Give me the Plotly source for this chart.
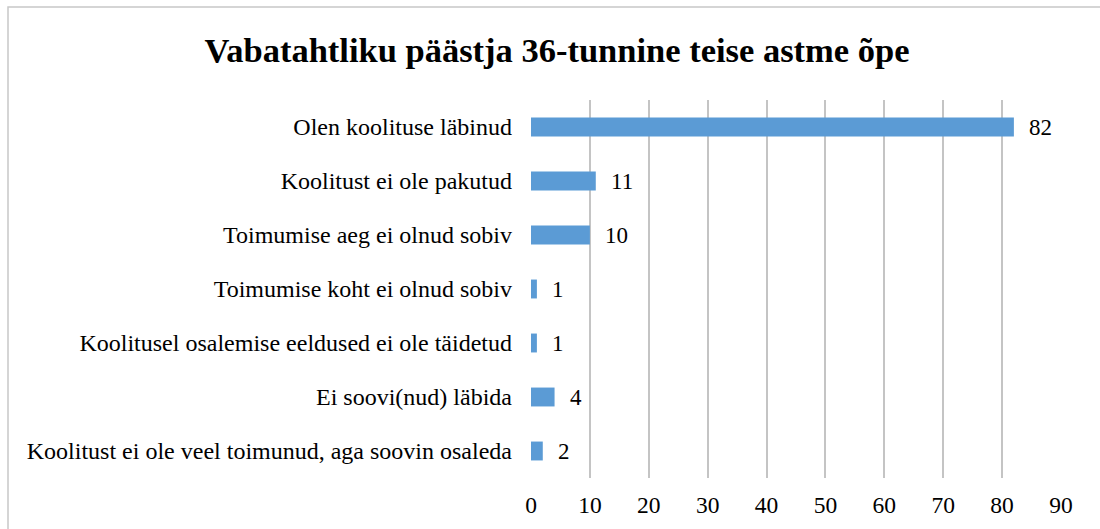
import plotly.graph_objects as go

categories = [
    "Olen koolituse läbinud",
    "Koolitust ei ole pakutud",
    "Toimumise aeg ei olnud sobiv",
    "Toimumise koht ei olnud sobiv",
    "Koolitusel osalemise eeldused ei ole täidetud",
    "Ei soovi(nud) läbida",
    "Koolitust ei ole veel toimunud, aga soovin osaleda",
]
values = [82, 11, 10, 1, 1, 4, 2]
x_ticks = [0, 10, 20, 30, 40, 50, 60, 70, 80, 90]
title_text = "Vabatahtliku päästja 36-tunnine teise astme õpe"

FONT = "Liberation Serif"

W, H = 1100, 529
L, R, T, B = 531, 39, 100, 51
pw, ph = W - L - R, H - T - B

fig = go.Figure()
fig.add_trace(go.Bar(
    x=values, y=categories, orientation="h",
    marker=dict(color="#5B9BD5", line=dict(width=0)),
    width=0.35, hoverinfo="x+y",
))

for c, v in zip(categories, values):
    fig.add_annotation(x=v, y=c, text=str(v), showarrow=False,
                       xanchor="left", xshift=13,
                       font=dict(family=FONT, size=23, color="#000"))

# outer border
fig.add_shape(type="rect", xref="paper", yref="paper",
              x0=(8 - L) / pw, x1=(W + 5 - L) / pw,
              y0=-(H + 5 - T - ph) / ph, y1=1 + (T - 7) / ph,
              line=dict(color="#c8c8c8", width=1.5), layer="below")

fig.update_layout(
    width=W, height=H,
    margin=dict(l=L, r=R, t=T, b=B, autoexpand=False),
    paper_bgcolor="white", plot_bgcolor="white",
    title=dict(text="<b>" + title_text + "</b>", x=557 / W, xanchor="center",
               y=1 - 50 / H, yanchor="middle",
               font=dict(family=FONT, size=34.5, color="#000")),
    showlegend=False,
    bargap=0.65,
    font=dict(family=FONT, size=24, color="#000"),
)
fig.update_xaxes(range=[0, 90], tickvals=x_ticks, showgrid=True,
                 gridcolor="#c4c4c4", gridwidth=1.5, zeroline=False,
                 showline=False, ticks="", ticklabelstandoff=10,
                 tickfont=dict(family=FONT, size=23.5, color="#000"),
                 fixedrange=True)
fig.update_yaxes(autorange="reversed", showgrid=False, zeroline=False,
                 showline=False, ticks="", ticklabelstandoff=18,
                 tickfont=dict(family=FONT, size=24, color="#000"),
                 fixedrange=True)

fig.write_html("out.html", config={"displayModeBar": False},
               post_script="document.body.style.margin='0';document.body.style.overflow='hidden';")
